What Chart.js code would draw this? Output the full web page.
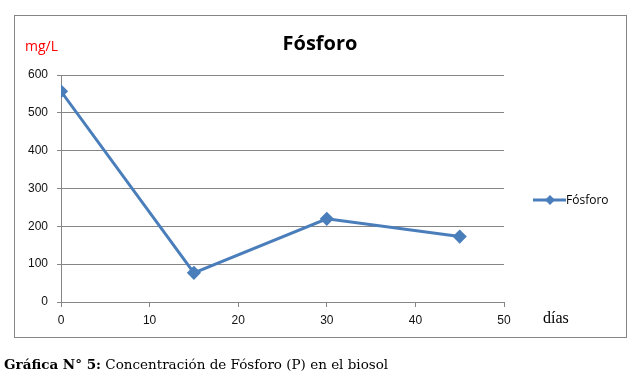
<!DOCTYPE html>
<html>
<head>
<meta charset="utf-8">
<script src="https://cdn.jsdelivr.net/npm/chart.js@4"></script>
<style>
  body { margin: 0; background: #fff; }
  #wrap { position: relative; width: 633px; height: 378px; }
</style>
</head>
<body>
<div id="wrap"><canvas id="chart" width="633" height="378"></canvas></div>
<script>
// datos
const dias = [0, 15, 30, 45];
const fosforo = [557, 77, 220, 173];
const xTicks = [0, 10, 20, 30, 40, 50];
const yTicks = [0, 100, 200, 300, 400, 500, 600];

const lineColor = '#4a7ebb';
const gridColor = '#868686';

// textos, marco y leyenda
const decor = {
    id: 'decor',
    afterDraw(chart) {
        const c = chart.ctx;
        c.save();
        c.strokeStyle = gridColor;
        c.lineWidth = 1;
        c.strokeRect(14.5, 15.5, 612, 322);

        c.fillStyle = '#000';
        c.font = 'bold 20px "Open Sans"';
        c.textAlign = 'center';
        c.textBaseline = 'middle';
        c.fillText('Fósforo', 320, 44);

        c.fillStyle = '#ff0000';
        c.font = '14px "Open Sans"';
        c.textAlign = 'left';
        c.fillText('mg/L', 25, 47);

        c.fillStyle = '#000';
        c.font = '16px "Liberation Serif"';
        c.fillText('días', 543, 319);

        // leyenda
        const ly = 200;
        c.strokeStyle = lineColor;
        c.lineWidth = 3;
        c.beginPath();
        c.moveTo(533, ly);
        c.lineTo(566, ly);
        c.stroke();
        c.fillStyle = lineColor;
        c.beginPath();
        c.moveTo(550, ly - 5);
        c.lineTo(555, ly);
        c.lineTo(550, ly + 5);
        c.lineTo(545, ly);
        c.closePath();
        c.fill();
        c.fillStyle = '#000';
        c.font = '12px "Open Sans"';
        c.fillText('Fósforo', 566, ly + 1);

        // pie de grafico
        c.font = 'bold 13.5px "DejaVu Serif"';
        const lab = 'Gráfica N° 5:';
        c.fillText(lab, 4, 365);
        const w = c.measureText(lab).width;
        c.font = '13.5px "DejaVu Serif"';
        c.fillText(' Concentración de Fósforo (P) en el biosol', 4 + w, 365);
        c.restore();
    }
};

const ctx = document.getElementById('chart').getContext('2d');
new Chart(ctx, {
    type: 'line',
    data: {
        datasets: [{
            label: 'Fósforo',
            data: dias.map((d, i) => ({ x: d, y: fosforo[i] })),
            borderColor: lineColor,
            backgroundColor: lineColor,
            borderWidth: 3,
            pointStyle: 'rectRot',
            pointRadius: 5,
            tension: 0
        }]
    },
    options: {
        responsive: false,
        animation: false,
        layout: { padding: { left: 0, right: 129, top: 75, bottom: 40 } },
        plugins: {
            legend: { display: false },
            tooltip: { enabled: false }
        },
        scales: {
            x: {
                type: 'linear',
                min: 0,
                max: 50,
                afterBuildTicks: s => { s.ticks = xTicks.map(v => ({ value: v })); },
                afterFit: s => { s.height = 36; },
                grid: { drawOnChartArea: false, drawTicks: true, tickLength: 5, color: gridColor },
                border: { color: gridColor },
                ticks: { color: '#111', font: { family: 'Liberation Sans', size: 12 }, padding: 6 }
            },
            y: {
                min: 0,
                max: 600,
                afterBuildTicks: s => { s.ticks = yTicks.map(v => ({ value: v })); },
                afterFit: s => { s.width = 61; },
                grid: { color: gridColor, tickLength: 4 },
                border: { color: gridColor },
                ticks: { color: '#111', font: { family: 'Liberation Sans', size: 12 }, padding: 9 }
            }
        }
    },
    plugins: [decor]
});
</script>
</body>
</html>
